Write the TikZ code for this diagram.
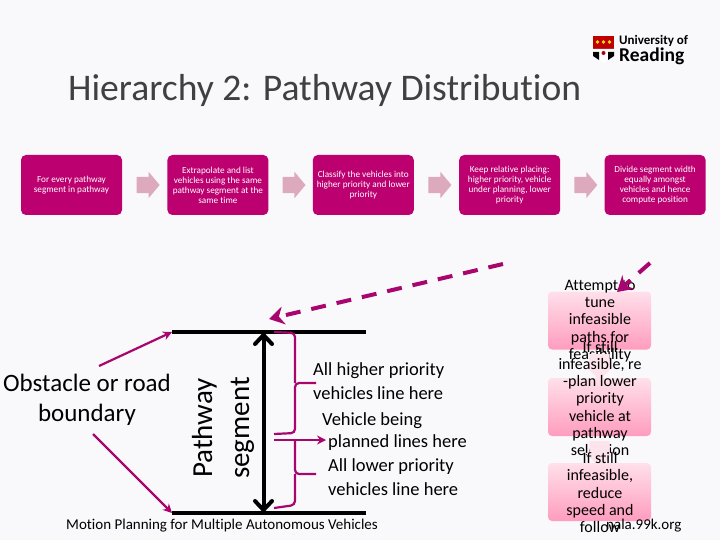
\documentclass[tikz,border=0pt]{standalone}
\usepackage{fontspec}
\setmainfont[Ligatures=NoCommon]{Carlito}
\usepackage{tikz}
\usetikzlibrary{arrows.meta,calc,positioning,shapes.arrows,shapes.geometric}
\definecolor{magbox}{HTML}{BD0070}
\definecolor{magline}{HTML}{A8066E}
\definecolor{chevron}{HTML}{DDA9BD}
\definecolor{slidebg}{HTML}{F9F9FB}
\definecolor{pinktop}{HTML}{FFE0EA}
\definecolor{pinkbot}{HTML}{FF9CBE}
\definecolor{pinkarr}{HTML}{FDE3EC}
\newcommand{\fs}[1]{\fontsize{#1}{#1}\selectfont}

\begin{document}
\begin{tikzpicture}[
  x=1pt, y=-1pt,
  stepbox/.style={draw=none, fill=magbox, rounded corners=5pt, minimum width=101pt,
                  minimum height=60pt, align=center, text=white,
                  inner sep=0pt, font=\fontsize{9.2}{10}\selectfont},
  nextarr/.style={single arrow, draw=none, fill=chevron, minimum height=23pt,
                  single arrow head extend=5pt, single arrow tip angle=100,
                  inner xsep=0pt, inner ysep=8pt},
  pinkbox/.style={draw=none, rounded corners=4pt, top color=pinktop, bottom color=pinkbot,
                  minimum width=103pt, minimum height=58pt},
  pinktxt/.style={align=center, font=\fontsize{16}{17.3}\selectfont, inner sep=0pt},
  downarr/.style={single arrow, shape border rotate=270, draw=none, fill=pinkarr,
                  minimum height=26pt, inner xsep=10pt, inner ysep=0pt,
                  single arrow head extend=4pt},
  seg/.style={line width=4pt, black},
  dasharr/.style={-{Stealth[length=15pt,width=18pt]}, magline, line width=4pt,
                  dash pattern=on 15pt off 11pt},
  brc/.style={magline, line width=2.2pt, rounded corners=4pt},
  thin arr/.style={magline, line width=2.2pt, -{Stealth[length=9pt,width=9pt]}},
  lbl/.style={font=\fs{18.5}, anchor=west, inner sep=0pt},
]
\fill[slidebg] (0,0) rectangle (720,540);
\useasboundingbox (0,0) rectangle (720,540);

% Title and logo
\node[anchor=west, inner sep=0pt, font=\fs{37.6}, text=black!75] (title) at (68,90) {Hierarchy 2: Pathway Distribution};
\fill[red!75!black] (593,36) rectangle (614,49);
\fill[white] (593,49) -- (614,49) -- (614,56) -- (603.5,63) -- (593,56) -- cycle;
\fill[black] (593,52) -- (599,52) -- (599,60) -- (593,56) -- cycle;
\fill[black] (614,52) -- (608,52) -- (608,60) -- (614,56) -- cycle;
\fill[yellow!80!orange] (597.5,42) circle (1.8) (603.5,42) circle (1.8) (609.5,42) circle (1.8);
\fill[red!70!black] (603.5,53) circle (2);
\node[anchor=west, inner sep=0pt, font=\fs{13}\bfseries] (uni) at (619,41) {University of};
\node[anchor=west, inner sep=0pt, font=\fs{19.5}\bfseries] (rdg) at (619,56) {Reading};

% Top row: steps
\node[stepbox] (s1) at (71.5,185) {For every pathway\\segment in pathway};
\node[stepbox, right=45pt of s1] (s2) {Extrapolate and list\\vehicles using the same\\pathway segment at the\\same time};
\node[stepbox, right=44pt of s2] (s3) {Classify the vehicles into\\higher priority and lower\\priority};
\node[stepbox, right=45pt of s3] (s4) {Keep relative placing:\\higher priority, vehicle\\under planning, lower\\priority};
\node[stepbox, right=44pt of s4] (s5) {Divide segment width\\equally amongst\\vehicles and hence\\compute position};
\node[nextarr] (a1) at ($(s1)!0.5!(s2)$) {};
\node[nextarr] (a2) at ($(s2)!0.5!(s3)$) {};
\node[nextarr] (a3) at ($(s3)!0.5!(s4)$) {};
\node[nextarr] (a4) at ($(s4)!0.5!(s5)$) {};

% Right column
\node[pinkbox] (p1) at (599.5,320.5) {};
\node[pinktxt] (t1) at (600,321) {Attempt to\\tune\\infeasible\\paths for\\feasibility};
\node[downarr] (d1) at (599.5,362) {};
\node[pinkbox] (p2) at (599.5,407) {};
\node[pinktxt] (t2) at (600,398.5) {If still\\infeasible, re\\-plan lower\\priority\\vehicle at\\pathway\\selection};
\node[downarr] (d2) at (599.5,449) {};
\node[pinkbox] (p3) at (599.5,492) {};
\node[pinktxt] (t3) at (600,492.5) {If still\\infeasible,\\reduce\\speed and\\follow};
\node[anchor=west, inner sep=0pt, font=\fs{15}] (web) at (606,526) {nala.99k.org};

% Pathway segment
\coordinate (topl) at (172,332);
\coordinate (topr) at (366,332);
\coordinate (botl) at (172,513);
\coordinate (botr) at (366,513);
\coordinate (arrt) at (263.5,333);
\coordinate (arrb) at (263.5,512);
\draw[seg] (topl) -- (topr);
\draw[seg] (botl) -- (botr);
\draw[seg, {Straight Barb[length=9pt,width=17pt,round]}-{Straight Barb[length=9pt,width=17pt,round]}] (arrt) -- (arrb);

\node[align=center, inner sep=0pt, font=\fs{25}] (obst) at (87,400) {Obstacle or road\\[5pt]boundary};
\node[rotate=90, align=center, inner sep=0pt, font=\fs{29}] (path) at (223,428) {Pathway\\[8pt]segment};

\node[lbl] (hi1) at (313,371) {All higher priority};
\node[lbl] (hi2) at (313,393) {vehicles line here};
\node[lbl] (pl1) at (322,421) {Vehicle being};
\node[lbl] (pl2) at (328,443) {planned lines here};
\node[lbl] (lo1) at (328,467) {All lower priority};
\node[lbl] (lo2) at (328,489) {vehicles line here};
\node[anchor=west, inner sep=0pt, font=\fs{15}] (foot) at (66,526) {Motion Planning for Multiple Autonomous Vehicles};

% Magenta arrows
\coordinate (obup) at (99,366);
\coordinate (oblo) at (93,434);
\draw[thin arr] (obup) -- (topl);
\draw[thin arr] (oblo) -- (botl);
\coordinate (dsh1) at (503,264);
\coordinate (tip1) at (269,319);
\coordinate (dsh2) at (650,263);
\coordinate (tip2) at (617,292);
\draw[dasharr] (dsh1) -- (tip1);
\draw[dasharr] (dsh2) -- (tip2);

% Braces
\draw[brc] (274,332) -- (295,333) -- (295,383);
\draw[brc] (316,383) -- (295,383) -- (295,433) -- (274,434);
\draw[brc] (295,441) -- (295,474) -- (316,474);
\draw[brc] (295,474) -- (295,505) -- (274,508);
\coordinate (plst) at (274,440);
\coordinate (plen) at (326,440);
\draw[thin arr] (plst) -- (plen);
\end{tikzpicture}
\end{document}
